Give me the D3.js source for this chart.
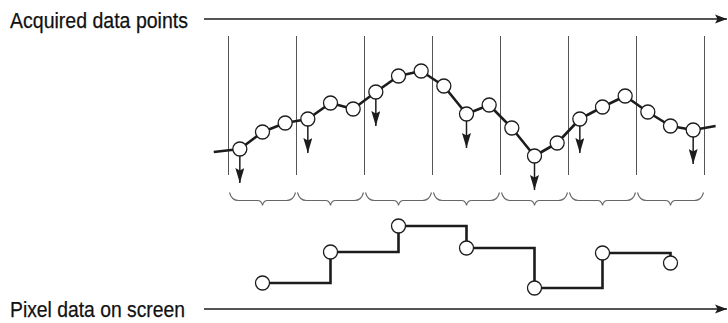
<!DOCTYPE html>
<html>
<head>
<meta charset="utf-8">
<script src="https://cdn.jsdelivr.net/npm/d3@7"></script>
<style>
html,body{margin:0;padding:0;background:#fff;}
svg{display:block;}
</style>
</head>
<body>
<svg id="chart" width="728" height="323"></svg>
<script>
// ---- data ----
const labels = ["Acquired data points", "Pixel data on screen"];
const sampleValues = [11, 28, 37, 41, 57, 51, 68, 84, 89, 74, 46, 55, 32, 4, 17, 41, 53, 64, 48, 34, 30];
const leadIndex = [-1.15, 20.99];
const leadValues = [8, 34];
const markedSamples = [0, 3, 6, 10, 13, 15, 20];
const pixelColumns = [0, 1, 2, 3, 4, 5, 6];
const pixelValues = [17, 48, 74, 52, 12, 47, 37];
const samplesPerColumn = 3;

// ---- layout ----
const svg = d3.select("#chart");
const x = d3.scaleLinear().domain([-0.5, 20.5]).range([228.5, 704.5]);
const yTop = d3.scaleLinear().domain([0, 100]).range([160, 60]);
const yBot = d3.scaleLinear().domain([0, 100]).range([300, 200]);
const colCenter = c => x(c * samplesPerColumn + (samplesPerColumn - 1) / 2);
const colLeft = c => x(c * samplesPerColumn - 0.5);
const colRight = c => x((c + 1) * samplesPerColumn - 0.5);
const ink = "#1c1c1c";
const R = 7;

const defs = svg.append("defs");
defs.append("marker").attr("id", "axhead")
  .attr("viewBox", "0 0 12 10").attr("refX", 12).attr("refY", 5)
  .attr("markerWidth", 12).attr("markerHeight", 10)
  .attr("markerUnits", "userSpaceOnUse").attr("orient", "auto")
  .append("path").attr("d", "M0,0.5 L12,5 L0,9.5 L2.5,5 Z").attr("fill", ink);
defs.append("marker").attr("id", "dnhead")
  .attr("viewBox", "0 0 9 15").attr("refX", 4.5).attr("refY", 15)
  .attr("markerWidth", 9).attr("markerHeight", 15)
  .attr("markerUnits", "userSpaceOnUse").attr("orient", "0")
  .append("path").attr("d", "M0,0 L4.5,2.5 L9,0 L4.5,15 Z").attr("fill", ink);

// labels + axis arrows
const labelY = [27.5, 316.8];
const arrowY = [19, 309];
labels.forEach((t, i) => {
  svg.append("text").attr("x", 10).attr("y", labelY[i])
    .attr("font-family", "'Liberation Sans Narrow','Arial Narrow','Liberation Sans',sans-serif")
    .attr("font-size", 22).attr("fill", "#111")
    .attr("stroke", "#111").attr("stroke-width", 0.25)
    .attr("textLength", i === 0 ? 178 : 175).attr("lengthAdjust", "spacingAndGlyphs")
    .text(t);
  svg.append("line").attr("x1", 204).attr("x2", 727)
    .attr("y1", arrowY[i]).attr("y2", arrowY[i])
    .attr("stroke", ink).attr("stroke-width", 1.5)
    .attr("marker-end", "url(#axhead)");
});

// column dividers
const nCols = sampleValues.length / samplesPerColumn;
svg.append("g").selectAll("line").data(d3.range(nCols + 1)).join("line")
  .attr("x1", c => colLeft(c)).attr("x2", c => colLeft(c))
  .attr("y1", 36).attr("y2", 175)
  .attr("stroke", "#555").attr("stroke-width", 1);

// braces
svg.append("g").selectAll("path").data(d3.range(nCols)).join("path")
  .attr("d", c => {
    const x0 = colLeft(c) + 1, x1 = colRight(c) - 1, m = (x0 + x1) / 2;
    const y0 = 192.5, y1 = 200.5, tip = 205.5, r = 9;
    return `M${x0},${y0} Q${x0 + 2},${y1} ${x0 + r},${y1} L${m - 5},${y1} Q${m - 1},${y1} ${m},${tip} Q${m + 1},${y1} ${m + 5},${y1} L${x1 - r},${y1} Q${x1 - 2},${y1} ${x1},${y0}`;
  })
  .attr("fill", "none").attr("stroke", "#666").attr("stroke-width", 1.1);

// waveform line
const wavePts = [[leadIndex[0], leadValues[0]]]
  .concat(sampleValues.map((v, i) => [i, v]))
  .concat([[leadIndex[1], leadValues[1]]]);
svg.append("path")
  .attr("d", d3.line().x(d => x(d[0])).y(d => yTop(d[1]))(wavePts))
  .attr("fill", "none").attr("stroke", ink).attr("stroke-width", 2.6)
  .attr("stroke-linejoin", "round");

// down arrows on marked samples
svg.append("g").selectAll("line").data(markedSamples).join("line")
  .attr("x1", i => x(i)).attr("x2", i => x(i))
  .attr("y1", i => yTop(sampleValues[i])).attr("y2", i => yTop(sampleValues[i]) + 34)
  .attr("stroke", ink).attr("stroke-width", 1.5)
  .attr("marker-end", "url(#dnhead)");

// sample circles
svg.append("g").selectAll("circle").data(sampleValues).join("circle")
  .attr("cx", (v, i) => x(i)).attr("cy", v => yTop(v)).attr("r", R)
  .attr("fill", "#fff").attr("stroke", ink).attr("stroke-width", 1.3);

// pixel step line
const pix = pixelColumns.map((c, i) => [colCenter(c), yBot(pixelValues[i])]);
svg.append("path")
  .attr("d", d3.line().curve(d3.curveStepAfter)(pix))
  .attr("fill", "none").attr("stroke", ink).attr("stroke-width", 2.6);
svg.append("g").selectAll("circle").data(pix).join("circle")
  .attr("cx", d => d[0]).attr("cy", d => d[1]).attr("r", R)
  .attr("fill", "#fff").attr("stroke", ink).attr("stroke-width", 1.3);
</script>
</body>
</html>
